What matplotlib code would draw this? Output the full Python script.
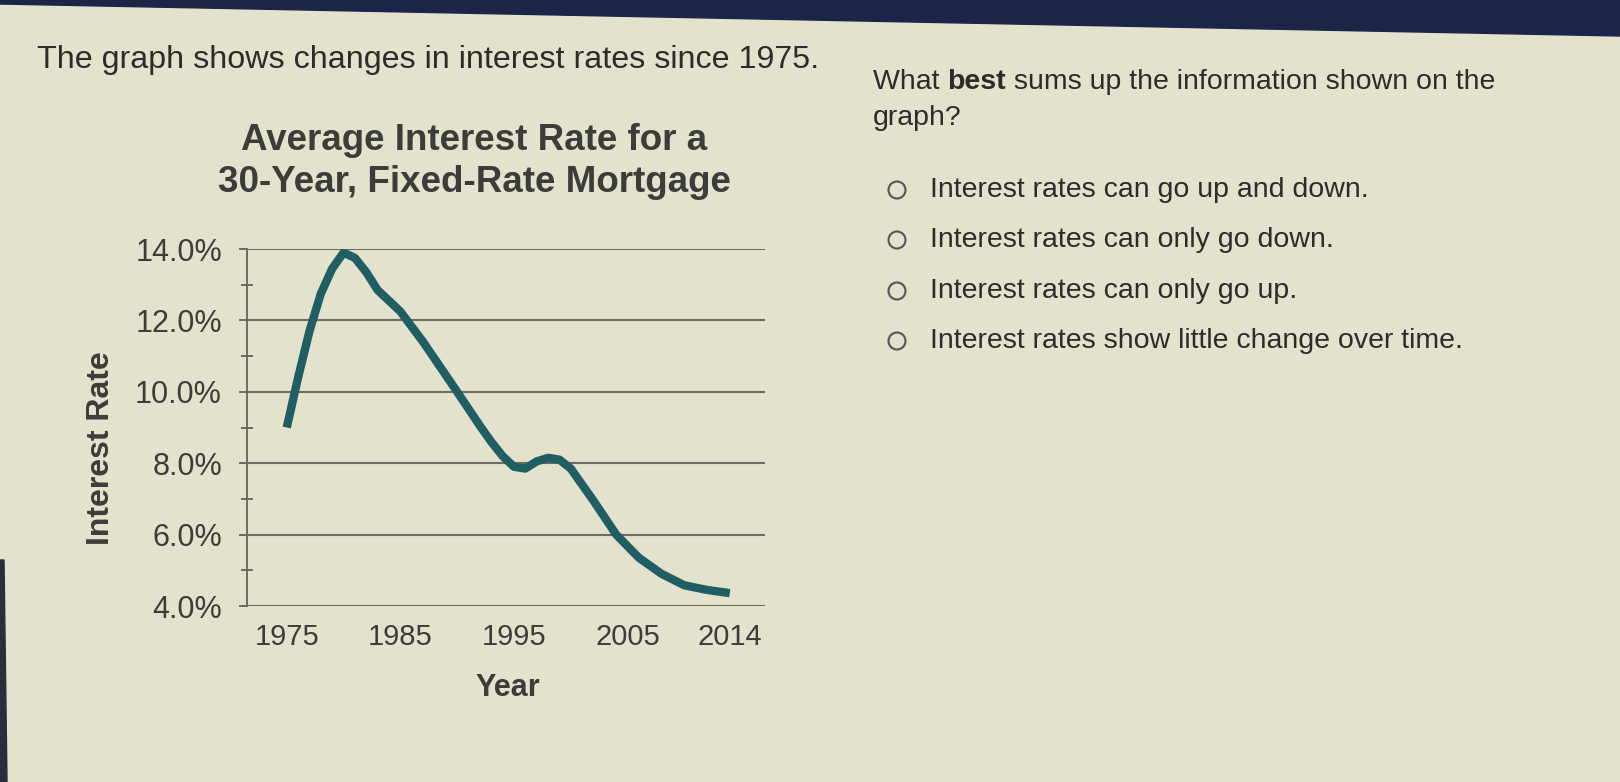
import matplotlib
matplotlib.use("Agg")
import matplotlib.pyplot as plt
from matplotlib.patches import Polygon, Ellipse

plt.rcParams['font.family'] = ['Liberation Sans', 'DejaVu Sans']

# ---- data ----
years = [1975, 1976, 1977, 1978, 1979, 1980, 1981, 1982, 1983, 1985, 1987,
         1990, 1992, 1993, 1994, 1995, 1996, 1997, 1998, 1999, 2000, 2002,
         2004, 2006, 2008, 2010, 2012, 2014]
rates = [9.0, 10.4, 11.7, 12.75, 13.45, 13.9, 13.75, 13.35, 12.85, 12.25, 11.4,
         10.0, 9.05, 8.6, 8.2, 7.9, 7.85, 8.05, 8.15, 8.1, 7.85, 6.95,
         6.0, 5.35, 4.9, 4.58, 4.45, 4.36]
year_ticks = [1975, 1985, 1995, 2005, 2014]
y_major = [4, 6, 8, 10, 12, 14]
y_minor = [5, 7, 9, 11, 13]
title_lines = ["Average Interest Rate for a", "30-Year, Fixed-Rate Mortgage"]
intro = "The graph shows changes in interest rates since 1975."
question = [("What ", "normal"), ("best", "bold"),
            (" sums up the information shown on the", "normal")]
options = ["Interest rates can go up and down.",
           "Interest rates can only go down.",
           "Interest rates can only go up.",
           "Interest rates show little change over time."]

W, H = 1620, 782
bg = "#e3e2cc"
fig = plt.figure(figsize=(W / 100, H / 100), dpi=100, facecolor=bg)

# screen bezel edges (dark) at top and lower-left
band = Polygon([[0, 1], [1, 1], [1, 1 - 36 / H], [0, 1 - 4 / H]],
               closed=True, transform=fig.transFigure, color="#1c2448", zorder=0)
fig.patches.append(band)
left_edge = Polygon([[0, 0], [7 / W, 0], [4 / W, 1 - 560 / H], [0, 1 - 560 / H]],
                    closed=True, transform=fig.transFigure, color="#2a2d3c", zorder=0)
fig.patches.append(left_edge)

def fx(px):
    return px / W

def fy(py):
    return 1 - py / H

tick_col = "#3c3c3a"
ax = fig.add_axes([fx(247), fy(606), fx(765) - fx(247), (606 - 249) / H])
ax.set_facecolor("none")
ax.plot(years, rates, color="#1f5e63", lw=6, solid_capstyle="butt",
        solid_joinstyle="round", zorder=3)
ax.set_xlim(1971.5, 2017.1)
ax.set_ylim(4, 14)
ax.set_yticks(y_major)
ax.set_yticks(y_minor, minor=True)
ax.set_yticklabels([f"{v:.1f}%" for v in y_major])
ax.set_xticks(year_ticks)
ax.set_xticklabels([str(y) for y in year_ticks])
for s in ["top", "right", "bottom"]:
    ax.spines[s].set_visible(False)
ax.spines["left"].set_color("#6b6b60")
ax.spines["left"].set_linewidth(1.4)
ax.grid(axis="y", which="major", color="#6c6d60", lw=1.5, zorder=1)
ax.set_axisbelow(True)
ax.tick_params(axis="y", which="major", length=6, width=1.4, color="#6b6b60",
               labelsize=22, labelcolor=tick_col, pad=12)
ax.tick_params(axis="y", which="minor", length=8, width=1.4, color="#6b6b60",
               direction="inout")
ax.tick_params(axis="x", length=0, labelsize=21, labelcolor=tick_col, pad=12)

fig.text(fx(508), fy(688), "Year", fontsize=22, fontweight="bold", color=tick_col,
         ha="center", va="center")
fig.text(fx(101), fy(448), "Interest Rate", fontsize=23, fontweight="bold",
         color=tick_col, ha="center", va="center", rotation=90)
for ty, line in zip([140, 183], title_lines):
    fig.text(fx(474), fy(ty), line, fontsize=26.5, fontweight="bold", color=tick_col,
             ha="center", va="center")

txt_col = "#2c2c2c"
fig.text(fx(37), fy(60), intro, fontsize=23.2, color=txt_col, va="center", ha="left")

fig.canvas.draw()
r = fig.canvas.get_renderer()
x = 873
for piece, wt in question:
    t = fig.text(fx(x), fy(82), piece, fontsize=20.5, fontweight=wt, color=txt_col,
                 va="center", ha="left")
    x += t.get_window_extent(renderer=r).width
fig.text(fx(873), fy(118), "graph?", fontsize=20.5, color=txt_col, va="center", ha="left")

opt_y = [190, 240, 291, 341]
for oy, txt in zip(opt_y, options):
    fig.text(fx(930), fy(oy), txt, fontsize=20.5, color=txt_col, va="center", ha="left")
    c = Ellipse((fx(897), fy(oy)), 17 / W, 17 / H, transform=fig.transFigure,
                fill=False, ec="#555555", lw=1.5)
    fig.patches.append(c)

fig.savefig("out.png", dpi=100, facecolor=bg)
